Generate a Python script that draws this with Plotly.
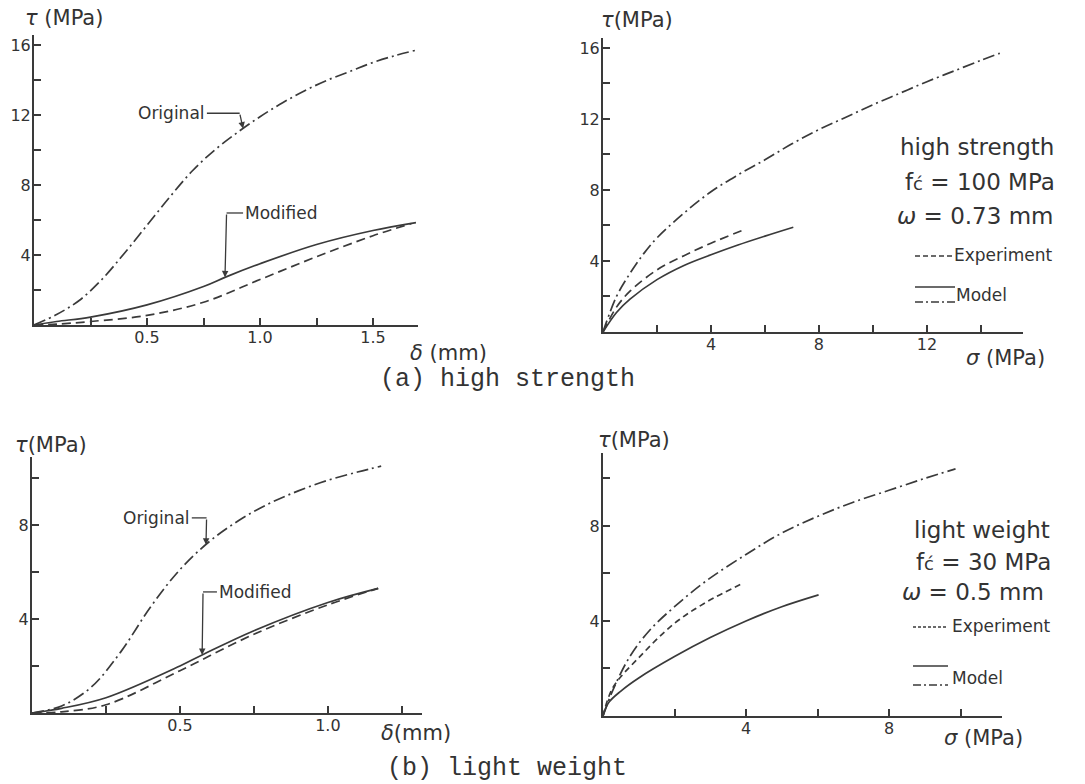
import numpy as np
import plotly.graph_objects as go

# ---------------- data ----------------
# (a) high strength, tau vs delta
a_orig_d = [0, 0.1, 0.2, 0.3, 0.4, 0.5, 0.6, 0.7, 0.8, 0.9, 1.0, 1.1, 1.2, 1.3, 1.4, 1.5, 1.6, 1.69]
a_orig_t = [0, 0.6, 1.4, 2.6, 4.1, 5.7, 7.3, 8.8, 10.0, 11.0, 11.9, 12.7, 13.4, 14.0, 14.5, 15.0, 15.4, 15.7]
a_mod_d = [0, 0.10, 0.25, 0.50, 0.75, 0.85, 1.00, 1.25, 1.50, 1.69]
a_mod_t = [0, 0.2, 0.45, 1.15, 2.2, 2.75, 3.5, 4.6, 5.4, 5.85]
a_exp_d = [0, 0.10, 0.25, 0.50, 0.75, 1.00, 1.25, 1.50, 1.67]
a_exp_t = [0, 0.05, 0.2, 0.55, 1.3, 2.6, 3.9, 5.1, 5.8]
# (a) high strength, tau vs sigma
a_mdd_s = [0, 0.5, 1, 1.5, 2, 3, 4, 5, 6, 7, 8, 9, 10, 11, 12, 13, 14, 14.7]
a_mdd_t = [0, 2.0, 3.3, 4.4, 5.3, 6.7, 7.9, 8.85, 9.7, 10.6, 11.4, 12.1, 12.8, 13.45, 14.1, 14.7, 15.3, 15.7]
a_msl_s = [0, 0.5, 1, 2, 3, 4, 5, 6, 7.05]
a_msl_t = [0, 1.1, 1.85, 2.95, 3.75, 4.35, 4.9, 5.4, 5.9]
a_exs_s = [0, 0.5, 1, 2, 3, 4, 5.2]
a_exs_t = [0, 1.4, 2.3, 3.5, 4.3, 5.0, 5.75]
# (b) light weight, tau vs delta
b_orig_d = [0, 0.1, 0.2, 0.3, 0.4, 0.5, 0.6, 0.7, 0.8, 0.9, 1.0, 1.1, 1.18]
b_orig_t = [0, 0.3, 1.1, 2.6, 4.5, 6.1, 7.3, 8.2, 8.9, 9.45, 9.9, 10.25, 10.5]
b_mod_d = [0, 0.10, 0.25, 0.50, 0.58, 0.75, 1.00, 1.17]
b_mod_t = [0, 0.2, 0.65, 2.0, 2.5, 3.5, 4.7, 5.3]
b_exp_d = [0, 0.10, 0.25, 0.50, 0.75, 1.00, 1.17]
b_exp_t = [0, 0.05, 0.35, 1.8, 3.35, 4.6, 5.3]
# (b) light weight, tau vs sigma
b_mdd_s = [0, 0.28, 0.75, 1.3, 2.0, 2.9, 4.0, 5.0, 6.0, 7.0, 8.0, 9.0, 9.86]
b_mdd_t = [0, 1.1, 2.5, 3.6, 4.6, 5.7, 6.8, 7.7, 8.4, 9.0, 9.5, 10.0, 10.4]
b_msl_s = [0, 0.15, 0.5, 1.0, 2.0, 3.0, 4.0, 5.0, 6.03]
b_msl_t = [0, 0.55, 1.05, 1.6, 2.5, 3.3, 4.0, 4.6, 5.1]
b_exs_s = [0, 0.28, 1.03, 2.0, 2.9, 3.93]
b_exs_t = [0, 1.2, 2.5, 3.9, 4.8, 5.6]

# tick definitions
a_d_ticks = [0.25, 0.5, 0.75, 1.0, 1.25, 1.5]
a_d_labels = ["", "0.5", "", "1.0", "", "1.5"]
a_t_ticks = [2, 4, 6, 8, 10, 12, 14, 16]
a_t_labels = ["", "4", "", "8", "", "12", "", "16"]
a_s_ticks = [2, 4, 6, 8, 10, 12, 14]
a_s_labels = ["", "4", "", "8", "", "12", ""]
b_d_ticks = [0.25, 0.5, 0.75, 1.0, 1.25]
b_d_labels = ["", "0.5", "", "1.0", ""]
b_t_ticks = [2, 4, 6, 8, 10]
b_t_labels = ["", "4", "", "8", ""]
b_s_ticks = [2, 4, 6, 8, 10]
b_s_labels = ["", "4", "", "8", ""]

# ---------------- styling ----------------
INK = "#3a3a3a"
TXT = "#333333"
DASHDOT = "12px,4px,2px,4px"
DASH = "9px,5px"
W, H = 1085, 784
SANS = "DejaVu Sans, sans-serif"
WIDE = "DejaVu Sans, sans-serif"


def P(px, py):
    return px / W, 1 - py / H


fig = go.Figure()


def add(x, y, dash, xa, ya, width=1.7):
    fig.add_trace(go.Scatter(x=x, y=y, mode="lines", xaxis=xa, yaxis=ya,
                             line=dict(color=INK, width=width, dash=dash, shape="spline", smoothing=1.0),
                             showlegend=False, hoverinfo="skip"))


add(a_orig_d, a_orig_t, DASHDOT, "x", "y")
add(a_mod_d, a_mod_t, "solid", "x", "y")
add(a_exp_d, a_exp_t, DASH, "x", "y")
add(a_mdd_s, a_mdd_t, DASHDOT, "x2", "y2")
add(a_msl_s, a_msl_t, "solid", "x2", "y2")
add(a_exs_s, a_exs_t, DASH, "x2", "y2")
add(b_orig_d, b_orig_t, DASHDOT, "x3", "y3")
add(b_mod_d, b_mod_t, "solid", "x3", "y3")
add(b_exp_d, b_exp_t, DASH, "x3", "y3")
add(b_mdd_s, b_mdd_t, DASHDOT, "x4", "y4")
add(b_msl_s, b_msl_t, "solid", "x4", "y4")
add(b_exs_s, b_exs_t, "6px,4px", "x4", "y4")


def axis(domain, rng, tickvals, ticktext, anchor, is_x):
    d = dict(domain=domain, range=rng, tickvals=tickvals, ticktext=ticktext,
             showline=True, linecolor=INK, linewidth=2, ticks="inside", ticklen=7,
             tickwidth=1.5, tickcolor=INK, showgrid=False, zeroline=False,
             tickfont=dict(family=SANS, size=16, color=TXT), anchor=anchor,
             fixedrange=True)
    d["ticklabelstandoff"] = -3 if is_x else -2
    return d


def dom_x(p0, p1):
    return [p0 / W, p1 / W]


def dom_y(top, bottom):
    return [1 - bottom / H, 1 - top / H]


fig.update_layout(
    width=W, height=H, margin=dict(l=0, r=0, t=0, b=0),
    paper_bgcolor="white", plot_bgcolor="rgba(0,0,0,0)",
    xaxis=axis(dom_x(34, 418), [0, 1.699], a_d_ticks, a_d_labels, "y", True),
    yaxis=axis(dom_y(35, 325), [0, 16.57], a_t_ticks, a_t_labels, "x", False),
    xaxis2=axis(dom_x(603, 1023), [0, 15.56], a_s_ticks, a_s_labels, "y2", True),
    yaxis2=axis(dom_y(38, 332), [0, 16.56], a_t_ticks, a_t_labels, "x2", False),
    xaxis3=axis(dom_x(32, 422), [0, 1.318], b_d_ticks, b_d_labels, "y3", True),
    yaxis3=axis(dom_y(457, 713), [0, 10.89], b_t_ticks, b_t_labels, "x3", False),
    xaxis4=axis(dom_x(603, 1002), [0, 11.16], b_s_ticks, b_s_labels, "y4", True),
    yaxis4=axis(dom_y(453, 716), [0, 11.07], b_t_ticks, b_t_labels, "x4", False),
)

ann = []


def text(px, py, s, size=15, anchor="left", family=SANS, color=TXT):
    x, y = P(px, py)
    ann.append(dict(x=x, y=y, xref="paper", yref="paper", text=s, showarrow=False,
                    xanchor=anchor, yanchor="middle", borderpad=0,
                    font=dict(family=family, size=size, color=color)))


# axis titles
text(24, 18, "<i>τ</i> (MPa)", 21)
text(600, 20, "<i>τ</i>(MPa)", 21)
text(14, 445, "<i>τ</i>(MPa)", 21)
text(597, 440, "<i>τ</i>(MPa)", 21)
text(409, 353, "<i>δ</i> (mm)", 21)
text(965, 358, "<i>σ</i> (MPa)", 21)
text(380, 733, "<i>δ</i>(mm)", 21)
text(943, 738, "<i>σ</i> (MPa)", 21)

# captions
CAP = "Liberation Mono, Courier New, monospace"
text(507, 379, "(a) high strength", 25, "center", CAP)
text(507, 768, "(b) light weight", 25, "center", CAP)

# info blocks
text(1055, 147, "high strength", 23, "right", WIDE)
text(1056, 182, "f<span style='font-size:18px'>ć</span> = 100 MPa", 23, "right", WIDE)
text(1055, 216, "<i>ω</i> = 0.73 mm", 23, "right", WIDE)
text(953, 255, "Experiment", 17, "left", WIDE)
text(955, 295, "Model", 17, "left", WIDE)

text(1051, 530, "light weight", 23, "right", WIDE)
text(1052, 562, "f<span style='font-size:18px'>ć</span> = 30 MPa", 23, "right", WIDE)
text(1045, 592, "<i>ω</i> = 0.5 mm", 23, "right", WIDE)
text(951, 626, "Experiment", 17, "left", WIDE)
text(951, 678, "Model", 17, "left", WIDE)

shapes = []


def pline(px0, px1, py, dash):
    x0, y0 = P(px0, py)
    x1, _ = P(px1, py)
    shapes.append(dict(type="line", xref="paper", yref="paper", x0=x0, x1=x1, y0=y0, y1=y0,
                       line=dict(color=INK, width=1.5, dash=dash)))


pline(915, 952, 256, "5px,3px")
pline(915, 955, 287, "solid")
pline(915, 955, 302, "8px,3px,2px,3px")
pline(913, 948, 627, "3px,2px")
pline(913, 948, 666, "solid")
pline(913, 948, 685, "8px,3px,2px,3px")


def leader(label, xs, ys, tip_x, xa, ya):
    """elbow leader line from a label pointing at a curve (xs, ys)."""
    x_start, y_lvl, x_elbow = label
    tip_y = float(np.interp(tip_x, xs, ys))
    shapes.append(dict(type="line", xref=xa, yref=ya, x0=x_start, x1=x_elbow, y0=y_lvl, y1=y_lvl,
                       line=dict(color=INK, width=1.3)))
    ann.append(dict(x=tip_x, y=tip_y, xref=xa, yref=ya, ax=x_elbow, ay=y_lvl, axref=xa, ayref=ya,
                    text="", showarrow=True, arrowhead=2, arrowsize=1, arrowwidth=1.3,
                    arrowcolor=INK, standoff=0))
    return x_start, y_lvl


def label_text(s, x, y, xa, ya, anchor):
    ann.append(dict(x=x, y=y, xref=xa, yref=ya, text=s, showarrow=False, xanchor=anchor,
                    yanchor="middle", borderpad=0, xshift=(-1 if anchor == "right" else 1),
                    font=dict(family=SANS, size=17, color=TXT)))


xs_, ys_ = leader((0.765, 12.1, 0.91), a_orig_d, a_orig_t, 0.925, "x", "y")
label_text("Original", xs_, ys_, "x", "y", "right")
xs_, ys_ = leader((0.925, 6.4, 0.852), a_mod_d, a_mod_t, 0.845, "x", "y")
label_text("Modified", xs_, ys_, "x", "y", "left")
xs_, ys_ = leader((0.54, 8.3, 0.59), b_orig_d, b_orig_t, 0.588, "x3", "y3")
label_text("Original", xs_, ys_, "x3", "y3", "right")
xs_, ys_ = leader((0.625, 5.15, 0.578), b_mod_d, b_mod_t, 0.575, "x3", "y3")
label_text("Modified", xs_, ys_, "x3", "y3", "left")

fig.update_layout(annotations=ann, shapes=shapes)
fig.write_html("out.html", config={"displayModeBar": False},
               post_script="document.body.style.margin='0px';")
